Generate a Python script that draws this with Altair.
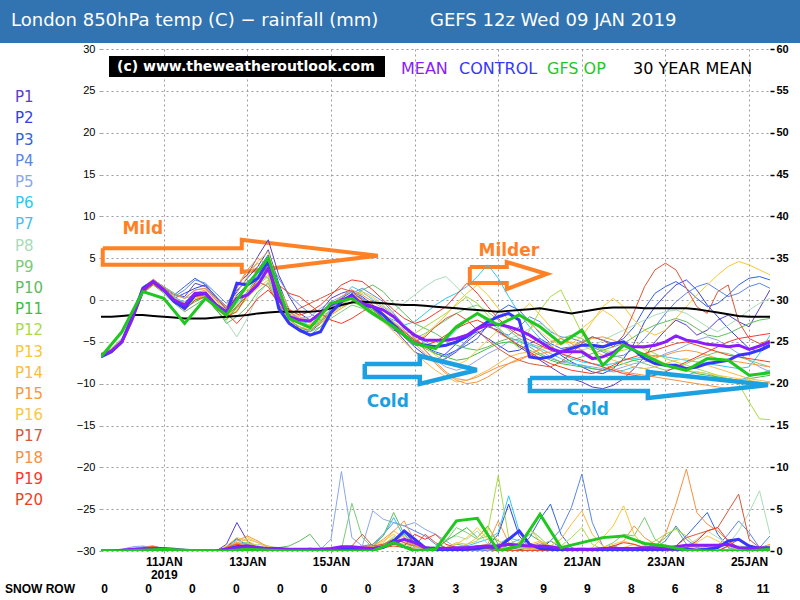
import altair as alt
import pandas as pd

# ---------------- data ----------------
HOURS = [i * 6 for i in range(65)]          # hours after 09 JAN 12z
OP_HOURS = [i * 12 for i in range(33)]

MEMBERS = ["P%d" % i for i in range(1, 21)]
COLORS = ["#5a3ec8", "#3040e8", "#3262e0", "#5a86e6", "#8aa6ea", "#2ec8f2", "#44c2ee",
          "#a8dcb8", "#78cc78", "#60bc60", "#40c040", "#a8dc40", "#f8c832", "#f8bc44",
          "#f89838", "#f8c844", "#d85838", "#f89040", "#f83828", "#f04020"]

T_P1 = [-6.8,-6.2,-4.9,-2.0,1.5,2.4,1.6,0.6,0.4,2.0, 1.6,0.2,-1.0,1.8,3.0,5.2,7.2,3.0,0.4,-1.6, -2.4,-1.4,0.2,0.8,1.2,0.0,-1.0,-2.2,-3.4,-4.8, -6.2,-6.8,-7.4,-7.0,-6.2,-5.0,-4.0,-3.2,-3.6,-4.6, -5.6,-6.4,-7.2,-8.0,-8.8,-9.4,-9.8,-10.4,-10.6,-10.2, -9.4,-8.2,-6.8,-5.0,-3.6,-2.4,-3.0,-4.2,-3.6,-2.4, -1.8,-2.6,-3.2,-1.0,1.2]
T_P2 = [-6.5,-6.0,-4.8,-2.4,1.0,2.0,1.4,0.2,0.8,1.4, 1.8,0.4,-0.8,1.0,2.6,4.0,6.0,2.0,-1.2,-2.6, -3.2,-2.6,-1.0,0.2,1.0,0.4,-0.6,-1.6,-2.8,-4.4, -5.6,-6.6,-7.2,-6.4,-5.2,-4.4,-3.8,-4.6,-5.4,-6.2, -6.0,-5.2,-4.6,-5.4,-6.6,-7.4,-8.0,-8.6,-8.8,-8.2, -7.0,-5.2,-2.6,-0.8,0.6,1.8,2.4,1.2,-0.6,-2.0, -3.4,-4.6,-5.8,-6.2,-5.6]
T_P3 = [-6.6,-6.1,-5.0,-2.1,1.3,2.3,1.4,0.6,1.6,2.6, 1.8,0.4,-1.2,0.6,1.8,3.6,5.4,1.2,-2.6,-3.6, -3.8,-2.8,-1.2,-0.2,0.6,0.2,-0.8,-2.4,-3.6,-4.2, -4.8,-5.6,-6.2,-6.6,-6.0,-5.4,-4.6,-3.0,-1.4,-0.6, -1.2,-2.6,-4.0,-5.2,-5.8,-5.6,-5.0,-4.4,-4.8,-5.2, -4.6,-3.2,-1.0,0.8,1.6,2.2,1.4,0.2,-0.8,-0.4, 0.6,1.8,2.6,2.8,2.4]
T_P4 = [-6.7,-6.2,-5.1,-2.4,0.9,2.0,1.2,0.4,1.2,2.4, 2.0,0.8,-0.4,1.2,2.2,3.2,4.8,2.6,0.6,-0.6, -1.6,-2.4,-1.8,-0.4,0.8,1.4,0.6,-0.2,-1.6,-3.0, -4.6,-5.6,-6.4,-6.8,-6.0,-4.8,-3.6,-3.0,-3.8,-4.2, -3.2,-2.0,-2.6,-3.8,-4.4,-4.6,-5.0,-5.6,-6.2,-6.8, -6.6,-5.8,-4.6,-3.2,-1.6,-0.2,0.8,1.6,2.0,1.2, 0.4,0.8,1.6,2.0,1.4]
T_P5 = [-6.4,-5.9,-4.8,-2.0,1.4,2.4,1.6,0.8,0.2,1.2, 1.4,0.0,-1.6,0.4,1.6,3.0,4.4,0.8,-1.8,-2.2, -2.0,-1.0,-0.2,0.4,1.0,0.2,-0.6,-1.6,-2.6,-3.6, -4.8,-6.0,-7.2,-8.0,-8.4,-8.0,-7.2,-6.4,-5.8,-5.0, -4.6,-5.2,-6.0,-6.8,-7.4,-7.6,-7.8,-8.0,-8.2,-8.4, -8.0,-7.6,-7.4,-7.0,-6.4,-6.0,-5.4,-4.8,-4.4,-4.8, -5.6,-6.4,-7.2,-8.0,-8.6]
T_P6 = [-6.5,-6.0,-4.9,-2.2,1.1,2.1,1.2,0.2,-0.2,0.6, 1.0,-0.4,-1.2,0.0,1.6,3.4,2.6,-0.6,-2.2,-2.8, -2.6,-1.8,-0.8,-0.2,0.2,-0.6,-1.2,-1.8,-2.4,-3.0, -2.6,-1.6,-0.6,0.2,0.8,1.6,2.8,4.2,2.6,0.4, -1.6,-3.2,-4.6,-5.6,-6.4,-7.0,-7.4,-7.6,-7.8,-7.6, -7.2,-7.0,-6.8,-6.6,-6.8,-7.0,-7.2,-7.4,-7.6,-7.8, -8.0,-8.2,-8.0,-6.4,-4.2]
T_P7 = [-6.6,-6.1,-5.0,-2.3,1.2,2.2,1.3,0.4,-0.4,0.6, 0.4,-0.8,-1.8,-0.4,0.8,2.4,3.6,0.0,-1.6,-2.6, -3.2,-2.4,-1.4,0.2,1.6,1.0,0.0,-0.8,-1.8,-3.0, -4.2,-5.2,-5.6,-4.8,-3.6,-2.4,-1.6,-2.6,-3.4,-4.4, -5.0,-5.4,-5.8,-6.4,-7.0,-7.6,-7.8,-8.2,-8.4,-8.6, -8.4,-8.0,-8.2,-8.6,-9.0,-9.2,-9.0,-8.6,-8.8,-9.2, -9.4,-9.6,-9.2,-8.8,-8.4]
T_P8 = [-6.7,-6.2,-5.2,-2.6,0.8,1.8,1.0,-0.2,-1.0,0.2, 0.4,-1.2,-2.6,-4.4,-2.2,0.6,2.2,0.4,-1.4,-2.0, -2.4,-2.0,-1.2,-0.6,0.2,0.8,0.2,-0.8,-1.4,-0.4, 0.6,1.6,2.4,2.8,1.6,0.2,-1.4,-2.8,-4.0,-4.6, -4.2,-3.4,-2.8,-3.6,-4.6,-5.6,-6.0,-5.6,-4.8,-4.2, -3.6,-3.0,-2.4,-1.8,-1.4,-1.2,-1.6,-2.4,-3.2,-3.8, -3.0,-2.2,-1.2,-0.4,0.2]
T_P9 = [-6.4,-5.8,-4.6,-1.8,1.6,2.4,1.6,0.8,0.2,0.6, 0.8,-0.8,-2.0,-1.0,0.4,2.0,3.0,-0.4,-2.6,-3.2, -3.8,-3.2,-2.2,-1.4,-0.6,-1.0,-1.8,-2.6,-3.4,-4.2, -4.6,-4.0,-3.2,-2.4,-1.6,-1.0,-0.6,-1.4,-2.4,-3.6, -4.6,-5.2,-5.6,-5.2,-4.6,-4.2,-4.6,-5.4,-6.0,-6.6, -7.0,-7.2,-7.6,-8.0,-8.4,-8.2,-7.6,-7.0,-6.6,-6.2, -6.4,-6.8,-7.2,-7.6,-8.0]
T_P10 = [-6.8,-6.3,-5.2,-2.6,0.8,1.8,0.8,-0.4,-1.4,-0.6, 0.2,-1.0,-2.8,-2.0,-0.8,1.0,2.0,-0.6,-2.8,-3.8, -4.2,-3.2,-1.6,-0.6,0.4,1.2,1.8,1.0,-0.4,-1.6, -2.8,-3.4,-4.0,-4.8,-5.4,-5.8,-6.0,-5.6,-5.0,-4.6, -4.8,-5.6,-6.4,-7.0,-7.4,-7.2,-6.8,-6.4,-6.0,-5.6, -5.2,-4.4,-3.6,-3.0,-2.6,-2.2,-2.6,-3.4,-4.2,-4.4, -4.0,-3.4,-2.8,-2.4,-2.2]
T_P11 = [-6.6,-6.0,-4.9,-2.2,1.2,2.3,1.4,0.2,-1.0,-0.2, 0.4,-1.2,-2.4,-0.8,1.0,2.8,4.0,0.6,-2.2,-3.4, -3.6,-2.6,-1.4,-0.4,0.4,-0.2,-1.2,-2.2,-3.2,-4.2, -5.0,-5.8,-6.4,-6.8,-7.2,-7.0,-6.4,-5.8,-5.2,-5.0, -5.4,-6.0,-6.6,-7.2,-7.6,-7.8,-8.0,-8.2,-8.4,-8.0, -7.6,-7.2,-7.0,-7.2,-7.6,-8.0,-8.4,-8.8,-9.0,-9.2, -9.4,-9.6,-9.4,-9.2,-9.0]
T_P12 = [-6.5,-6.0,-5.0,-2.3,1.0,2.0,1.2,0.4,-0.8,0.0, 0.6,-0.8,-2.2,-1.2,0.2,1.8,2.8,0.2,-1.8,-2.6, -3.0,-2.4,-1.6,-0.8,-0.2,-0.8,-1.6,-2.4,-3.2,-3.8, -4.0,-3.2,-2.4,-1.6,-0.6,0.4,-0.4,-1.8,-3.2,-4.6, -5.8,-3.6,-1.2,0.4,1.2,-1.4,-4.0,-5.4,-6.0,-6.2, -6.0,-5.6,-5.8,-6.4,-7.0,-7.4,-7.8,-8.2,-8.6,-9.0, -9.4,-10.0,-12.2,-14.2,-14.3]
T_P13 = [-6.6,-6.1,-5.0,-2.2,1.2,2.2,1.2,0.0,-0.8,0.4, 0.8,-0.4,-2.2,-0.6,0.4,1.4,2.4,-0.8,-2.8,-3.4, -3.0,-2.0,-0.8,0.0,0.6,0.0,-0.6,-1.6,-2.6,-3.8, -5.0,-4.2,-3.0,-1.8,-0.4,0.8,1.8,0.6,-1.0,-2.4, -1.6,-0.4,-1.8,-3.2,-4.6,-5.2,-4.4,-2.6,-0.8,0.2, -0.8,-2.4,-3.6,-4.2,-3.6,-2.2,-0.8,0.6,1.8,3.0, 4.0,4.6,4.2,3.6,3.0]
T_P14 = [-6.7,-6.2,-5.1,-2.5,0.9,1.9,1.0,-0.2,-1.0,0.2, 0.6,-0.6,-1.6,0.8,2.8,4.6,5.8,1.6,-1.0,-2.0, -2.8,-2.2,-1.4,-0.4,0.2,-0.4,-1.4,-2.6,-3.8,-5.0, -6.2,-7.4,-8.4,-9.2,-9.8,-9.6,-9.0,-8.4,-7.6,-6.8, -6.4,-6.2,-6.0,-5.6,-5.2,-5.0,-5.4,-6.0,-6.6,-7.2, -7.6,-8.0,-8.2,-8.0,-7.6,-7.2,-7.0,-7.4,-7.8,-8.2, -8.6,-9.0,-9.4,-9.6,-9.8]
T_P15 = [-6.5,-6.0,-4.8,-2.0,1.4,2.3,1.4,0.2,-0.4,0.8, 1.2,0.0,-1.0,1.4,3.4,4.4,3.2,0.0,-2.4,-3.2, -3.6,-2.8,-1.8,-1.0,-0.2,-0.6,-1.4,-2.2,-3.0,-4.0, -5.2,-6.4,-7.6,-8.8,-9.6,-10.0,-9.8,-9.2,-8.4,-7.6, -7.0,-6.6,-6.4,-6.2,-6.0,-5.6,-5.0,-4.6,-4.4,-4.8, -5.4,-6.0,-6.4,-6.8,-6.6,-6.2,-6.0,-6.2,-6.6,-7.0, -7.2,-7.4,-7.6,-7.8,-8.0]
T_P16 = [-6.6,-6.1,-4.9,-2.1,1.3,2.3,1.3,0.2,-0.6,0.6, 1.0,-0.2,-1.2,0.4,1.2,2.0,3.0,0.6,-1.6,-2.6, -3.2,-2.6,-1.8,-0.6,0.4,1.0,0.4,-0.6,-1.8,-3.0, -4.4,-5.6,-6.6,-7.4,-7.8,-7.2,-6.0,-4.8,-3.6,-2.4, -1.8,-2.8,-3.8,-4.8,-5.4,-4.6,-3.4,-2.4,-1.2,-2.0, -3.4,-4.8,-6.0,-7.0,-7.6,-8.0,-8.4,-8.6,-8.8,-9.0, -9.2,-9.4,-9.6,-9.8,-10.0]
T_P17 = [-6.7,-6.2,-5.0,-2.3,1.0,2.0,1.0,0.0,-0.8,0.4, 0.6,-0.8,-1.8,-0.8,0.6,2.2,1.6,-0.6,-1.8,-1.0, -0.4,0.2,0.8,1.4,1.0,0.0,-1.0,-2.2,-3.4,-4.4, -5.0,-4.4,-3.2,-2.2,-1.6,-2.4,-3.6,-4.8,-5.8,-6.6, -7.2,-7.6,-7.8,-8.0,-7.4,-6.4,-5.2,-4.4,-4.8,-5.6, -4.2,-1.4,1.6,3.6,4.4,3.6,1.4,-0.8,-1.6,1.0, 1.8,-2.6,-4.6,-5.2,-4.8]
T_P18 = [-6.4,-5.9,-4.7,-1.9,1.5,2.5,1.5,0.6,0.2,1.2, 1.4,0.2,-0.8,1.6,3.6,5.0,4.2,1.0,-1.4,-2.2, -2.6,-1.8,-0.6,0.4,1.2,0.6,-0.2,-1.0,-2.0,-3.2, -4.6,-6.0,-7.4,-8.6,-9.4,-9.6,-9.2,-8.6,-8.0,-7.6, -7.2,-6.6,-5.8,-5.0,-4.6,-5.2,-6.0,-6.8,-7.6,-8.2, -8.6,-8.8,-9.0,-9.2,-9.4,-9.6,-9.8,-10.0,-10.2,-10.4, -10.6,-10.4,-10.2,-10.0,-9.8]
T_P19 = [-6.6,-6.1,-5.0,-2.2,1.1,2.1,1.1,-0.2,-0.8,0.4, 0.8,-0.4,-1.6,-2.8,-1.4,0.2,1.2,-0.2,-1.2,-1.8, -1.4,-0.6,0.6,1.8,2.4,2.2,1.2,0.0,-1.2,-2.2, -2.8,-2.4,-1.6,-0.8,0.6,2.0,0.8,-0.8,-2.2,-3.4, -4.2,-4.8,-5.4,-6.0,-6.4,-6.8,-7.2,-7.6,-8.0,-8.4, -8.8,-9.0,-9.2,-9.0,-8.6,-8.0,-7.4,-6.8,-6.2,-5.6, -5.0,-4.6,-4.4,-4.2,-4.0]
T_P20 = [-6.7,-6.2,-5.1,-2.4,0.9,1.9,1.0,-0.2,-1.2,0.0, 0.4,-1.0,-2.0,-1.4,0.6,2.6,3.8,1.8,0.8,0.4, -0.6,-1.6,-2.4,-2.8,-2.2,-1.4,-0.6,-1.6,-2.8,-3.8, -4.8,-5.4,-5.0,-4.2,-3.4,-2.8,-2.4,-3.0,-3.8,-4.6, -5.4,-6.2,-7.0,-7.6,-8.0,-8.4,-8.6,-8.8,-8.4,-7.8, -7.2,-6.8,-6.4,-6.0,-5.6,-5.2,-5.0,-5.4,-5.8,-6.2, -6.6,-6.8,-7.0,-7.2,-7.4]
TEMP_MEMBERS = [T_P1, T_P2, T_P3, T_P4, T_P5, T_P6, T_P7, T_P8, T_P9, T_P10,
                T_P11, T_P12, T_P13, T_P14, T_P15, T_P16, T_P17, T_P18, T_P19, T_P20]

T_MEAN = [-6.6,-6.1,-5.0,-2.2,1.2,2.2,1.2,0.0,-0.6,0.8, 0.8,-0.6,-1.4,0.2,0.6,1.8,3.8,0.2,-2.0,-2.4, -2.5,-1.6,-0.6,0.0,0.4,-0.4,-0.8,-1.2,-2.0,-3.2, -4.2,-4.8,-4.8,-4.8,-4.6,-4.2,-3.4,-3.0,-2.9,-3.2, -3.6,-4.2,-5.0,-5.8,-6.2,-6.2,-6.2,-7.0,-6.8,-6.3, -5.4,-5.6,-5.6,-5.4,-5.0,-4.3,-4.8,-5.0,-5.3,-5.4, -5.6,-5.4,-5.9,-5.5,-5.0]
T_CTRL = [-6.8,-6.2,-5.0,-2.0,1.4,2.2,1.2,-0.2,-1.0,0.6, 0.8,-0.6,-1.6,2.0,1.8,2.6,4.6,-1.0,-2.8,-3.6, -4.2,-3.8,-1.5,-0.2,0.6,-0.6,-0.8,-1.8,-3.0,-4.2, -5.2,-5.4,-5.6,-5.4,-5.0,-4.4,-3.4,-2.6,-2.0,-1.6, -2.4,-6.8,-7.0,-6.8,-6.2,-5.8,-5.4,-5.4,-5.6,-5.2, -5.0,-6.0,-7.0,-7.6,-7.8,-7.8,-8.2,-8.0,-7.6,-7.4, -7.2,-6.6,-6.4,-6.0,-5.4]
T_CLIM = [-2.0,-2.0,-1.9,-1.8,-1.8,-1.9,-2.0,-2.1,-2.2,-2.2, -2.2,-2.1,-2.0,-1.9,-1.8,-1.6,-1.5,-1.4,-1.4,-1.4, -1.4,-1.3,-1.0,-0.6,-0.3,-0.2,-0.3,-0.4,-0.5,-0.6, -0.6,-0.7,-0.8,-0.9,-1.0,-1.1,-1.2,-1.3,-1.4,-1.3, -1.2,-1.1,-1.0,-1.2,-1.4,-1.6,-1.4,-1.2,-1.0,-0.9, -0.9,-0.9,-1.0,-1.0,-1.0,-1.0,-1.0,-1.1,-1.3,-1.5, -1.7,-1.9,-2.0,-2.0,-2.0]
T_OP = [-6.8,-3.8,1.0,0.2,-2.8,0.2,-1.8,1.8,5.0,-2.2,-3.3,-0.4,0.2,-1.6,-3.2,-5.2,-5.8,
        -3.2,-1.6,-3.0,-1.8,-3.2,-5.2,-3.6,-7.8,-5.4,-6.6,-7.8,-8.4,-7.0,-7.2,-9.0,-8.7]

R_P1 = [0,0,0.1,0.3,0.4,0.3,0.2,0,0,0, 0,0,0.8,3.4,1.2,0.3,0.2,0,0,0, 0,0,0,0.2,0.4,0.3,0.2,0.6,1.2,2.4, 0.8,0.2,0,0,0.3,0.6,0.2,0,0,0.4, 0.2,0,0,0.3,0.6,0.2,0,0,0,0, 0,0,0.2,0,0,0,0.4,0.8,0.5,0, 0.6,0.2,0,0.3,0.1]
R_P2 = [0,0,0,0.2,0.3,0.4,0.2,0,0,0, 0,0,0.5,1.5,0.6,0.2,0,0,0,0, 0,0,0,0,0.3,0.6,0.3,0.8,1.4,0.6, 0.3,0,0,0.2,0.4,0.2,0,0.6,2.0,5.6, 1.8,0.4,0.2,1.2,0.4,0,0,0,0.3,0.6, 0.2,0,0,0,0.3,0.5,0.2,0,0,0.4, 0.8,0.4,0,0,0]
R_P3 = [0,0,0,0.1,0.3,0.5,0.3,0,0,0, 0,0,0.3,1.0,0.8,0.4,0.2,0,0,0, 0,0,0,0.2,0.5,0.2,0,0.4,0.8,2.2, 1.0,0.3,0,0,0.2,0.5,0.4,0.2,0,0.8, 0.4,1.6,3.8,5.6,2.0,0.4,0,0,0,0, 0.2,0.4,0.2,0,0,0.6,1.8,3.2,4.6,2.0, 0.4,0,0.2,0.2,0]
R_P4 = [0,0,0,0.2,0.5,0.6,0.3,0,0,0, 0,0,0.2,0.6,0.4,0.2,0,0,0,0.1, 0.2,0.3,0.2,0.2,0.4,0.6,0.8,2.0,3.4,3.0, 2.4,1.8,0.8,0.4,0.2,0,0,0.3,0.5,0.8, 0.4,0.2,0.6,1.2,2.6,5.2,9.2,3.4,0.6,0, 0,0,0,0.4,1.2,3.0,1.4,0.4,0.2,0.6, 2.0,3.6,2.2,0.4,1.8]
R_P5 = [0,0,0.2,0.5,0.6,0.4,0.2,0,0,0, 0,0,0.3,0.6,0.5,0.3,0.2,0.1,0,0, 0,0.2,1.4,9.5,1.6,0.6,4.8,3.8,3.4,3.0, 3.4,2.6,2.0,1.2,0.4,0,0,0,0.3,0.8, 1.4,0.6,0.2,0,0,0,0,0,0,0, 0,0.3,0.6,0.4,0,0,0,0,0,0, 0.2,0.4,0.3,0,0]
R_P6 = [0,0,0,0.2,0.4,0.4,0.3,0,0,0, 0,0,0.4,1.4,0.8,0.3,0,0,0,0, 0,0,0,0,0.2,0.3,0.6,1.8,4.0,1.6, 0.4,0.2,0,0,0.3,0.6,1.0,1.4,2.2,6.6, 2.4,0.8,0.3,0,0,0,0,0,0,0, 0.3,0.2,0,0,0,0,0,0,0,0, 0,0.3,0.6,0.2,0]
R_P7 = [0,0,0,0.1,0.2,0.3,0.2,0,0,0, 0,0,0.2,0.8,1.0,0.6,0.3,0,0,0, 0,0,0,0,0,0.2,0.4,0.8,1.2,2.0, 0.6,0.2,0,0,0,0.2,0.4,0.3,0.8,1.6, 1.2,0.4,0,0,0,0,0,0,0,0.2, 0.4,0.2,0,0,0,0,0,0.2,0.3,0, 0,0,0.2,0.4,0.2]
R_P8 = [0,0,0,0.2,0.3,0.2,0.1,0,0,0, 0,0,0.4,0.6,0.5,0.8,0.6,0.4,0.2,0, 0,0,0,0,0.2,0.3,0.2,0.6,1.8,1.0, 0.3,0.2,0.6,1.4,1.8,1.4,2.4,0.8,0.3,0, 0,0,0,0,0,0.2,0.4,0.2,0,0, 0.2,0.4,0.6,0.4,0.2,0,0.6,1.4,2.4,1.6, 0.8,2.4,4.6,7.2,2.0]
R_P9 = [0,0,0,0.2,0.3,0.3,0.2,0,0,0, 0,0,0.2,0.6,0.4,0.2,0.1,0,0,0, 0,0,0,0.2,5.7,1.6,0.4,0.4,1.0,0.8, 0.6,0.4,0.2,1.2,2.8,2.2,1.4,1.8,1.2,0.6, 0.8,2.6,1.6,0.4,0.2,0,0,0,0.4,1.0, 2.0,1.8,4.0,1.4,0.6,0.2,0.4,0.8,0.2,0, 0.2,0.6,0.4,0.2,0]
R_P10 = [0,0,0,0.1,0.3,0.4,0.3,0,0,0, 0,0,0.3,0.7,0.5,0.3,0.2,0.4,0.6,1.2, 2.0,0.4,0,0,0.2,0.4,0.8,1.8,4.6,2.0, 0.6,0.2,0,0.4,0.8,0.6,0.3,0.2,0,0, 0,0,0,0,0,0,0,0,0,0, 0,0.2,0.4,0.6,1.6,2.8,0.8,0.4,0.2,0, 0,0.3,0.6,0.4,0.2]
R_P11 = [0,0,0,0.2,0.4,0.4,0.3,0,0,0, 0,0,0.4,0.6,0.4,0.3,0.2,0,0,0, 0,0,0,0,0.2,0.4,0.3,0.6,1.0,1.4, 0.8,0.4,0.2,1.2,2.0,2.8,1.6,3.0,0.8,0.4, 1.0,2.0,1.2,0.4,0,0,0,0,0,0, 0,0,0.4,0.8,0.6,0.2,0,0,0,0, 0,0,0.2,0.4,0.6]
R_P12 = [0,0,0,0.1,0.3,0.4,0.2,0,0,0, 0,0,0.2,0.8,1.0,0.6,0.3,0.2,0,0, 0,0,0,0,0.3,0.6,0.4,0.8,1.6,1.2, 0.6,0.2,0,0,0.4,0.8,1.2,2.4,9.0,1.6, 0.4,0.2,0.8,1.2,0.6,1.6,2.8,0.8,0.2,0, 0,0,0.6,1.2,2.0,2.6,1.8,0.6,0.2,0, 0,0,0,0.2,0.4]
R_P13 = [0,0,0,0.2,0.4,0.5,0.3,0,0,0, 0,0,0.6,1.6,1.2,0.6,0.3,0.2,0,0, 0,0,0,0,0.2,0.4,0.6,1.2,2.0,1.0, 0.2,0,0,0.4,0.8,1.6,2.8,1.4,0.6,0.2, 0.6,0.8,1.2,0.6,0.6,0.2,0,0.4,1.6,3.0, 5.4,2.0,0.4,0.2,0,0,0.2,0.6,0.4,0.2, 0,0.2,0.4,0.2,0]
R_P14 = [0,0,0,0.2,0.3,0.4,0.3,0,0,0, 0,0,0.4,1.0,1.4,1.0,0.6,0.2,0,0, 0,0,0,0,0,0.2,0.4,1.0,2.4,1.6, 0.6,0.2,0,0.4,1.0,0.8,1.6,2.8,1.2,0.6, 1.0,2.6,1.2,0.6,1.4,3.2,4.8,2.0,0.6,0.2, 0.4,0.8,0.4,0,0,0,0,0,0,0, 0,0.2,0.4,0.3,0]
R_P15 = [0,0,0,0.2,0.4,0.5,0.3,0,0,0, 0,0,0.4,1.2,1.8,1.2,0.4,0.2,0,0, 0,0,0,0,0.2,0.4,0.6,1.4,2.4,3.6, 1.2,0.4,0,0,0.2,0.4,0.6,0.8,3.6,1.0, 0.4,0.6,1.0,0.4,0,0,0,0,0,0.4, 1.2,3.0,1.6,0.8,0.4,0.2,0,0,0,0, 0,0,0.2,0.4,0.8]
R_P16 = [0,0,0,0.1,0.2,0.3,0.2,0,0,0, 0,0,0.2,0.8,1.6,1.0,0.4,0.2,0,0, 0,0,0,0,0,0.2,0.3,0.6,1.2,1.8, 0.8,0.2,0,0,0.2,0.4,0.3,0.2,0.4,0.8, 0.6,0.4,0.2,0,0,0,0,0,0.4,0.8, 1.2,0.8,0.4,0.2,0,0,0.4,1.0,1.8,1.2, 0.6,0.2,0,0.2,0.4]
R_P17 = [0,0,0,0.1,0.3,0.4,0.2,0,0,0, 0,0,0.2,0.6,0.5,0.3,0.2,0,0,0, 0,0,0,0,0.6,2.0,0.6,0.8,1.4,1.0, 0.6,2.0,1.0,0.4,0.2,0,0.4,0.6,0.3,0.2, 0,0,0,0,0,0,0,0,0,0, 0.2,0.4,0.2,0,0.2,0.6,1.6,2.0,2.4,2.8, 4.8,6.8,1.4,0.4,0.2]
R_P18 = [0,0,0,0.2,0.4,0.5,0.3,0,0,0, 0,0,0.3,0.9,0.8,0.5,0.2,0,0,0, 0,0,0,0,0,0.2,0.4,0.6,1.0,1.4, 0.6,0.2,0,0,0.2,0.4,0.3,0.2,0.2,0.4, 0.6,0.3,0,0,0,0,0,0,0,0, 0,0,0.2,0.4,2.0,5.6,9.8,4.6,3.2,2.4, 1.2,0.4,0.2,0,0]
R_P19 = [0,0,0,0.2,0.4,0.5,0.3,0,0,0, 0,0,0.4,0.8,0.6,0.4,0.2,0,0,0, 0,0,0,0,0,0.2,0.4,0.6,0.8,0.6, 2.0,1.4,2.0,0.8,0.4,0.2,0.6,0.4,0.2,0, 0,0,0,0,0,0,0,0,0.2,0.6, 1.0,0.8,0.4,0.2,0,0,0.4,1.2,2.4,2.8, 1.2,0.4,0.2,0,0]
R_P20 = [0,0,0,0.1,0.3,0.3,0.2,0,0,0, 0,0,0.2,0.5,0.4,0.3,0.2,0,0,0, 0,0,0,0,0,0.1,0.2,0.4,0.6,0.4, 0.2,0,0,0,0.2,0.4,0.6,0.3,0,0, 0,0,0,0.2,0.4,0.2,0,0,0,0, 0,0,0,0.2,0.4,0.6,0.4,0.2,0,0, 0.6,1.4,0.6,0.2,0]
RAIN_MEMBERS = [R_P1, R_P2, R_P3, R_P4, R_P5, R_P6, R_P7, R_P8, R_P9, R_P10,
                R_P11, R_P12, R_P13, R_P14, R_P15, R_P16, R_P17, R_P18, R_P19, R_P20]

R_MEAN = [0,0,0.1,0.2,0.2,0.3,0.3,0.2,0.1,0, 0,0,0.2,0.4,0.5,0.4,0.3,0.3,0.2,0.2, 0.2,0.2,0.3,0.5,0.5,0.4,0.3,0.5,1.0,1.4, 1.0,0.4,0.3,0.3,0.4,0.4,0.5,0.6,0.6,0.8, 0.7,0.6,0.6,0.5,0.3,0.2,0.2,0.2,0.3,0.3, 0.3,0.3,0.4,0.4,0.4,0.5,0.7,0.7,0.7,0.7, 0.8,0.4,0.3,0.4,0.3]
R_CTRL = [0,0,0,0.1,0.2,0.2,0.2,0.1,0,0, 0,0,0.2,0.5,0.6,0.4,0.2,0.1,0.1,0.1, 0.2,0.1,0.1,0.2,0.3,0.3,0.2,0.4,1.2,2.4, 1.4,0.4,0.2,0.1,0.1,0.2,0.3,0.5,0.4,1.4, 2.4,0.8,0.3,0.2,0.1,0,0,0,0,0, 0,0.1,0.1,0.1,0.2,0.2,0.2,0.1,0.2,0.4, 1.2,1.4,0.6,0.3,0.4]
R_OP = [0,0,0.1,0.2,0.1,0,0,0.2,0.1,0,0,0,0,0,1.0,0,0.2,3.6,3.9,0,0.6,4.4,0.4,1.0,1.6,1.8,0.9,0.6,0.1,0,0,0,0.2]

SNOW_ROW = [0, 0, 0, 0, 0, 0, 0, 3, 3, 3, 9, 9, 8, 6, 8, 11]

X_TICKS = [36, 84, 132, 180, 228, 276, 324, 372]   # 11,13,...,25 JAN 00z

# annotation arrows (hours, temperature)
ARROWS_ORANGE = {
    "mild":   ([1, 80.8, 80.8, 158.9, 80.8, 80.8, 1, 1],
               [6.2, 6.2, 7.2, 5.3, 3.35, 4.2, 4.2, 6.2]),
    "milder": ([211.7, 232.9, 232.9, 255.9, 232.9, 232.9, 211.7, 211.7],
               [3.94, 3.94, 4.54, 3.11, 1.31, 2.03, 2.03, 3.94]),
}
ARROWS_BLUE = {
    "cold1": ([151.4, 183.0, 183.0, 215.7, 183.0, 183.0, 151.4, 151.4],
              [-7.65, -7.65, -6.69, -8.37, -10.04, -9.2, -9.2, -7.65]),
    "cold2": ([246.2, 313.9, 313.9, 382.8, 313.9, 313.9, 246.2, 246.2],
              [-9.32, -9.32, -8.61, -10.16, -11.71, -10.88, -10.88, -9.32]),
}
NOTES_ORANGE = (["Mild", "Milder"], [24.0, 234.1], [8.5, 5.86])
NOTES_BLUE = (["Cold", "Cold"], [164.6, 279.5], [-12.2, -13.15])

# ---------------- helpers ----------------
def long_df(lists, names, hours):
    rows = []
    for name, vals in zip(names, lists):
        for i, (h, v) in enumerate(zip(hours, vals)):
            rows.append({"h": h, "v": v, "s": name, "i": i})
    return pd.DataFrame(rows)


def arrows_df(d):
    rows = []
    for k, (xs, ys) in d.items():
        for i, (x, y) in enumerate(zip(xs, ys)):
            rows.append({"h": x, "v": y, "a": k, "i": i})
    return pd.DataFrame(rows)


XS = alt.Scale(domain=[0, 384], nice=False, zero=False)
YT = alt.Scale(domain=[-30, 30], nice=False, zero=False)
YR = alt.Scale(domain=[0, 60], nice=False, zero=False)
GRID = "#9c9c9c"
BANNER = "#3274b1"
MEAN_C = "#8a1cff"
CTRL_C = "#3636ff"
OP_C = "#1fc81f"
ORANGE = "#ff8126"
BLUE = "#1ba1e2"

x_axis = alt.Axis(values=X_TICKS,
                  labelExpr="datum.value == 36 ? ['11JAN', '2019'] : (9.5 + datum.value / 24) + 'JAN'",
                  grid=True, gridDash=[2, 3], gridColor=GRID, gridWidth=1,
                  ticks=True, tickDash=[2, 3], tickColor=GRID, tickSize=5,
                  domain=False, labelFont="Liberation Sans", labelFontSize=12,
                  labelFontWeight="bold", labelColor="black", labelPadding=0,
                  labelLineHeight=13, labelOverlap=False, labelFlush=False, title=None)
y_left = alt.Axis(values=list(range(-30, 31, 5)), grid=True, gridDash=[2, 3], gridColor=GRID,
                  ticks=True, tickDash=[2, 2], tickColor=GRID, tickSize=4, domain=False,
                  labelFont="Liberation Sans", labelFontSize=11, labelColor="black",
                  labelPadding=2, labelOverlap=False, title=None)
y_right = alt.Axis(orient="right", values=list(range(0, 61, 5)), grid=False, ticks=True,
                   tickColor="black", tickSize=4, tickWidth=1.5, domain=False,
                   labelFont="Liberation Sans", labelFontSize=11, labelFontWeight="bold",
                   labelColor="black", labelPadding=2, labelOverlap=False, title=None)

member_color = alt.Color("s:N", scale=alt.Scale(domain=MEMBERS, range=COLORS), legend=None)
one = pd.DataFrame({"k": [0]})

def text_layer(txt, x, y, color, size, weight="normal", font="DejaVu Sans", align="left"):
    return alt.Chart(pd.DataFrame({"t": [txt]})).mark_text(
        align=align, baseline="middle", font=font, fontSize=size, fontWeight=weight,
        color=color).encode(x=alt.value(x), y=alt.value(y), text="t:N")

# ---------------- layers ----------------
banner = alt.Chart(one).mark_rect(color=BANNER).encode(
    x=alt.value(-101), x2=alt.value(699), y=alt.value(-49), y2=alt.value(-6))
title1 = text_layer("London 850hPa temp (C) \u2212 rainfall (mm)", -90, -28, "white", 18)
title2 = text_layer("GEFS 12z Wed 09 JAN 2019", 329, -28, "white", 18)

orange_arrows = alt.Chart(arrows_df(ARROWS_ORANGE)).mark_line(
    color=ORANGE, strokeWidth=4, strokeJoin="miter", clip=False).encode(
    x=alt.X("h:Q", scale=XS, axis=None), y=alt.Y("v:Q", scale=YT, axis=None),
    detail="a:N", order="i:Q")

temp_members = alt.Chart(long_df(TEMP_MEMBERS, MEMBERS, HOURS)).mark_line(
    strokeWidth=1, clip=True).encode(
    x=alt.X("h:Q", scale=XS, axis=x_axis), y=alt.Y("v:Q", scale=YT, axis=y_left),
    color=member_color, detail="s:N")

rain_members = alt.Chart(long_df(RAIN_MEMBERS, MEMBERS, HOURS)).mark_line(
    strokeWidth=1, clip=True).encode(
    x=alt.X("h:Q", scale=XS, axis=None), y=alt.Y("v:Q", scale=YR, axis=y_right),
    color=member_color, detail="s:N")

def series(vals, hours, scale, color, width):
    df = pd.DataFrame({"h": hours[:len(vals)], "v": vals[:len(hours)]})
    return alt.Chart(df).mark_line(color=color, strokeWidth=width, clip=True).encode(
        x=alt.X("h:Q", scale=XS, axis=None), y=alt.Y("v:Q", scale=scale, axis=None))

clim = series(T_CLIM, HOURS, YT, "black", 2)
ctrl_t = series(T_CTRL, HOURS, YT, CTRL_C, 3)
ctrl_r = series(R_CTRL, HOURS, YR, CTRL_C, 3)
mean_t = series(T_MEAN, HOURS, YT, MEAN_C, 3)
mean_r = series(R_MEAN, HOURS, YR, MEAN_C, 3)
op_t = series(T_OP, OP_HOURS, YT, OP_C, 3)
op_r = series(R_OP, OP_HOURS, YR, OP_C, 3)

blue_arrows = alt.Chart(arrows_df(ARROWS_BLUE)).mark_line(
    color=BLUE, strokeWidth=4.5, strokeJoin="miter", clip=False).encode(
    x=alt.X("h:Q", scale=XS, axis=None), y=alt.Y("v:Q", scale=YT, axis=None),
    detail="a:N", order="i:Q")

def notes(spec, color):
    df = pd.DataFrame({"t": spec[0], "h": spec[1], "v": spec[2]})
    return alt.Chart(df).mark_text(font="DejaVu Sans", fontSize=17, fontWeight="bold",
                                   color=color, baseline="middle").encode(
        x=alt.X("h:Q", scale=XS, axis=None), y=alt.Y("v:Q", scale=YT, axis=None), text="t:N")

notes_o = notes(NOTES_ORANGE, ORANGE)
notes_b = notes(NOTES_BLUE, BLUE)

copy_box = alt.Chart(one).mark_rect(color="black").encode(
    x=alt.value(8), x2=alt.value(284), y=alt.value(7), y2=alt.value(28))
copy_txt = text_layer("(c) www.theweatheroutlook.com", 16, 18, "white", 14, weight="bold")
leg_mean = text_layer("MEAN", 300, 20, MEAN_C, 16)
leg_ctrl = text_layer("CONTROL", 358, 20, CTRL_C, 16)
leg_op = text_layer("GFS OP", 446, 20, OP_C, 16)
leg_clim = text_layer("30 YEAR MEAN", 532, 20, "black", 16)

p_legend = alt.Chart(pd.DataFrame({"s": MEMBERS, "idx": list(range(len(MEMBERS)))})).mark_text(
    align="left", baseline="middle", font="DejaVu Sans", fontSize=15).encode(
    x=alt.value(-86),
    y=alt.Y("idx:Q", scale=alt.Scale(domain=[-2.27, 21.41], reverse=True, nice=False, zero=False), axis=None),
    text="s:N", color=member_color)

snow_label = text_layer("SNOW ROW", -96, 540, "black", 12, weight="bold", font="Liberation Sans")
snow_vals = alt.Chart(pd.DataFrame({"n": SNOW_ROW, "idx": list(range(len(SNOW_ROW)))})).mark_text(
    align="center", baseline="middle", font="Liberation Sans", fontSize=12, fontWeight="bold",
    color="black").encode(
    x=alt.X("idx:Q", scale=alt.Scale(domain=[-0.084, 15.16], nice=False, zero=False), axis=None),
    y=alt.value(540), text="n:Q")

chart = alt.layer(
    banner, title1, title2, orange_arrows, temp_members, rain_members, clim,
    ctrl_t, ctrl_r, mean_t, mean_r, op_t, op_r, blue_arrows, notes_o, notes_b,
    copy_box, copy_txt, leg_mean, leg_ctrl, leg_op, leg_clim, p_legend, snow_label, snow_vals
).resolve_scale(x="independent", y="independent").properties(
    width=669, height=502,
    autosize=alt.AutoSizeParams(type="none"),
    padding={"left": 101, "top": 49, "right": 30, "bottom": 49},
    background="white",
).configure_view(stroke=None)

chart.save("out.html", embed_options={"renderer": "svg", "actions": False})
